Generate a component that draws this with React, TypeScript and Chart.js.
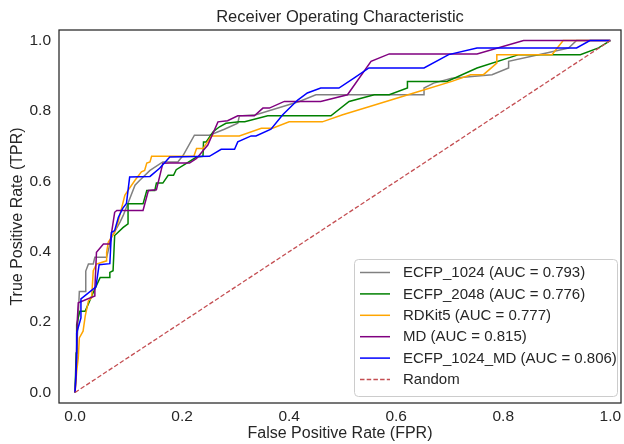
import React, { useEffect, useRef } from "react";
import { Chart, registerables } from "chart.js";

Chart.register(...registerables);

const TITLE = "Receiver Operating Characteristic";
const X_LABEL = "False Positive Rate (FPR)";
const Y_LABEL = "True Positive Rate (TPR)";
const TICKS = [0, 0.2, 0.4, 0.6, 0.8, 1.0];

const LABELS = [
  "ECFP_1024 (AUC = 0.793)",
  "ECFP_2048 (AUC = 0.776)",
  "RDKit5 (AUC = 0.777)",
  "MD (AUC = 0.815)",
  "ECFP_1024_MD (AUC = 0.806)",
  "Random",
];

const ecfp1024Fpr = [0, 0.004, 0.008, 0.02, 0.02, 0.025, 0.034, 0.037, 0.059, 0.068, 0.084, 0.09, 0.112, 0.121, 0.14, 0.164, 0.192, 0.202, 0.223, 0.251, 0.279, 0.304, 0.307, 0.338, 0.419, 0.45, 0.652, 0.652, 0.67, 0.704, 0.779, 0.81, 0.81, 0.885, 0.922, 0.937, 1];
const ecfp1024Tpr = [0, 0.15, 0.287, 0.287, 0.345, 0.365, 0.365, 0.384, 0.384, 0.441, 0.484, 0.503, 0.589, 0.603, 0.631, 0.655, 0.655, 0.674, 0.731, 0.731, 0.748, 0.765, 0.786, 0.789, 0.827, 0.846, 0.846, 0.865, 0.879, 0.893, 0.903, 0.922, 0.941, 0.966, 0.979, 1, 1];

const ecfp2048Fpr = [0, 0.002, 0.003, 0.009, 0.019, 0.034, 0.047, 0.065, 0.065, 0.071, 0.074, 0.09, 0.099, 0.099, 0.127, 0.134, 0.149, 0.152, 0.164, 0.174, 0.184, 0.189, 0.227, 0.239, 0.24, 0.245, 0.258, 0.27, 0.282, 0.307, 0.317, 0.36, 0.478, 0.512, 0.559, 0.587, 0.621, 0.621, 0.695, 0.751, 0.829, 0.944, 0.978, 1];
const ecfp2048Tpr = [0, 0.112, 0.193, 0.231, 0.231, 0.284, 0.327, 0.327, 0.341, 0.346, 0.446, 0.469, 0.479, 0.536, 0.536, 0.574, 0.574, 0.595, 0.595, 0.617, 0.617, 0.633, 0.669, 0.671, 0.712, 0.712, 0.741, 0.755, 0.765, 0.769, 0.769, 0.786, 0.786, 0.827, 0.846, 0.846, 0.865, 0.884, 0.884, 0.922, 0.96, 0.96, 0.979, 1];

const rdkit5Fpr = [0, 0.003, 0.006, 0.008, 0.015, 0.019, 0.025, 0.031, 0.034, 0.04, 0.059, 0.059, 0.062, 0.074, 0.081, 0.093, 0.099, 0.112, 0.124, 0.13, 0.134, 0.14, 0.143, 0.222, 0.227, 0.239, 0.255, 0.307, 0.348, 0.369, 0.4, 0.462, 0.5, 0.549, 0.642, 0.704, 0.739, 0.763, 0.788, 0.788, 0.891, 0.912, 1];
const rdkit5Tpr = [0, 0.06, 0.098, 0.155, 0.174, 0.217, 0.26, 0.269, 0.346, 0.365, 0.374, 0.398, 0.427, 0.455, 0.488, 0.56, 0.574, 0.603, 0.627, 0.631, 0.652, 0.655, 0.671, 0.671, 0.693, 0.693, 0.729, 0.729, 0.751, 0.751, 0.769, 0.769, 0.789, 0.812, 0.855, 0.884, 0.903, 0.903, 0.936, 0.96, 0.96, 1, 1];

const mdFpr = [0, 0.002, 0.004, 0.006, 0.037, 0.037, 0.04, 0.053, 0.065, 0.074, 0.078, 0.127, 0.137, 0.152, 0.164, 0.177, 0.214, 0.227, 0.248, 0.267, 0.285, 0.304, 0.335, 0.351, 0.363, 0.391, 0.459, 0.509, 0.553, 0.587, 0.751, 0.838, 1];
const mdTpr = [0, 0.05, 0.2, 0.255, 0.274, 0.294, 0.398, 0.422, 0.422, 0.512, 0.517, 0.517, 0.574, 0.576, 0.651, 0.652, 0.652, 0.665, 0.703, 0.769, 0.772, 0.786, 0.786, 0.808, 0.808, 0.827, 0.827, 0.846, 0.941, 0.962, 0.962, 1, 1];

const ecfpMdFpr = [0, 0.003, 0.003, 0.011, 0.011, 0.039, 0.045, 0.065, 0.068, 0.074, 0.081, 0.089, 0.096, 0.102, 0.14, 0.158, 0.177, 0.251, 0.273, 0.298, 0.304, 0.329, 0.338, 0.366, 0.388, 0.416, 0.434, 0.459, 0.493, 0.521, 0.549, 0.652, 0.698, 0.751, 0.937, 0.962, 1];
const ecfpMdTpr = [0, 0.1, 0.169, 0.212, 0.266, 0.3, 0.363, 0.366, 0.455, 0.46, 0.498, 0.523, 0.537, 0.612, 0.614, 0.637, 0.669, 0.671, 0.691, 0.691, 0.712, 0.729, 0.729, 0.748, 0.789, 0.831, 0.851, 0.865, 0.865, 0.893, 0.922, 0.922, 0.96, 0.979, 0.979, 1, 1];

const randomFpr = [0, 1];
const randomTpr = [0, 1];

const SERIES_X = [ecfp1024Fpr, ecfp2048Fpr, rdkit5Fpr, mdFpr, ecfpMdFpr, randomFpr];
const SERIES_Y = [ecfp1024Tpr, ecfp2048Tpr, rdkit5Tpr, mdTpr, ecfpMdTpr, randomTpr];
const COLORS = ["#808080", "#008000", "#FFA500", "#800080", "#0000FF", "#C44E52"];

const FONT = "'Liberation Sans', Arial, Helvetica, sans-serif";
const TEXT = "#262626";

const framePlugin = {
  id: "frame",
  afterDatasetsDraw(chart: any) {
    const { ctx, chartArea: a } = chart;
    ctx.save();
    ctx.strokeStyle = TEXT;
    ctx.lineWidth = 1.25;
    ctx.strokeRect(a.left, a.top, a.right - a.left, a.bottom - a.top);
    ctx.restore();
  },
};

const legendPlugin = {
  id: "boxLegend",
  afterDraw(chart: any) {
    const { ctx, chartArea: a } = chart;
    const w = 263;
    const h = 137;
    const x0 = a.right - w - 4;
    const y0 = a.bottom - h - 7;
    ctx.save();
    ctx.beginPath();
    ctx.roundRect(x0 + 0.5, y0 + 0.5, w, h, 4);
    ctx.fillStyle = "rgba(255,255,255,0.8)";
    ctx.fill();
    ctx.strokeStyle = "#cccccc";
    ctx.lineWidth = 1;
    ctx.stroke();
    ctx.font = `15px ${FONT}`;
    ctx.textBaseline = "middle";
    ctx.textAlign = "left";
    chart.data.datasets.forEach((ds: any, i: number) => {
      const y = y0 + 13.5 + i * 21.4;
      ctx.beginPath();
      ctx.strokeStyle = ds.borderColor;
      ctx.lineWidth = ds.borderWidth;
      ctx.setLineDash(ds.borderDash || []);
      ctx.moveTo(x0 + 6, y);
      ctx.lineTo(x0 + 36, y);
      ctx.stroke();
      ctx.setLineDash([]);
      ctx.fillStyle = TEXT;
      ctx.fillText(ds.label, x0 + 49, y + 0.5);
    });
    ctx.restore();
  },
};

export default function App() {
  const ref = useRef<HTMLCanvasElement | null>(null);

  useEffect(() => {
    if (!ref.current) return;
    const n = LABELS.length;
    const datasets = LABELS.map((label, i) => ({
      label,
      data: SERIES_X[i].map((x, j) => ({ x, y: SERIES_Y[i][j] })),
      borderColor: COLORS[i],
      backgroundColor: COLORS[i],
      borderWidth: i === n - 1 ? 1.3 : 1.5,
      borderDash: i === n - 1 ? [4.5, 2.2] : undefined,
      pointRadius: 0,
      fill: false,
      tension: 0,
      order: n - i,
    }));
    const tickFont = { family: FONT, size: 15.5 };
    const chart = new Chart(ref.current, {
      type: "line",
      data: { datasets },
      options: {
        responsive: false,
        animation: false,
        devicePixelRatio: 1,
        layout: { padding: { top: 0, right: 3, bottom: 0, left: 0 } },
        plugins: {
          legend: { display: false },
          tooltip: { enabled: false },
          title: {
            display: true,
            fullSize: false,
            text: TITLE,
            color: TEXT,
            font: { family: FONT, size: 16.5, weight: "normal" },
            padding: { top: 8, bottom: 2.2 },
          },
        },
        scales: {
          x: {
            type: "linear",
            min: -0.03,
            max: 1.02,
            grid: { display: false, drawTicks: false },
            border: { display: false },
            ticks: {
              color: TEXT,
              font: tickFont,
              padding: 4,
              autoSkip: false,
              maxRotation: 0,
              callback: (v: any) => Number(v).toFixed(1),
            },
            afterBuildTicks: (s: any) => {
              s.ticks = TICKS.map((v) => ({ value: v }));
            },
            afterFit: (s: any) => {
              s.height = 41;
              s.paddingLeft = 0;
              s.paddingRight = 0;
            },
            title: {
              display: true,
              text: X_LABEL,
              color: TEXT,
              font: { family: FONT, size: 16 },
              padding: { top: 0, bottom: 0.5 },
            },
          },
          y: {
            type: "linear",
            min: -0.03,
            max: 1.03,
            grid: { display: false, drawTicks: false },
            border: { display: false },
            ticks: {
              color: TEXT,
              font: tickFont,
              padding: 8,
              autoSkip: false,
              callback: (v: any) => Number(v).toFixed(1),
            },
            afterBuildTicks: (s: any) => {
              s.ticks = TICKS.map((v) => ({ value: v }));
            },
            afterFit: (s: any) => {
              s.width = 59;
              s.paddingTop = 0;
              s.paddingBottom = 0;
            },
            title: {
              display: true,
              text: Y_LABEL,
              color: TEXT,
              font: { family: FONT, size: 16 },
              padding: { top: 8.4, bottom: 0 },
            },
          },
        },
      },
      plugins: [framePlugin, legendPlugin],
    } as any);
    return () => chart.destroy();
  }, []);

  return (
    <div style={{ position: "fixed", left: 0, top: 0, width: 624, height: 444, background: "#fff" }}>
      <canvas ref={ref} width={624} height={444} style={{ display: "block", width: 624, height: 444 }} />
    </div>
  );
}
